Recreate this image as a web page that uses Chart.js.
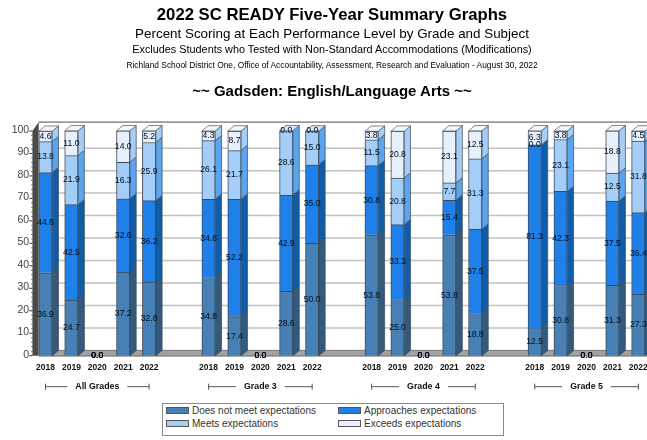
<!DOCTYPE html>
<html><head><meta charset="utf-8">
<script src="https://cdn.jsdelivr.net/npm/chart.js@4"></script>
<style>
html,body{margin:0;padding:0;background:#fff;overflow:hidden}
#wrap{position:relative;width:647px;height:440px;font-family:"Liberation Sans",Arial,sans-serif;filter:blur(0.5px);overflow:hidden}
canvas{position:absolute;left:0;top:0}
.t{position:absolute;left:0;width:664px;text-align:center;white-space:nowrap;color:#000}
#box{position:absolute;left:162px;top:403px;width:340px;height:31px;border:1px solid #8a8a8a;background:#fff;box-sizing:content-box}
.li{position:absolute;font-size:10px;line-height:12px;color:#333;white-space:nowrap}
.sw{position:absolute;width:21px;height:5px;border:1px solid #555}
</style></head><body>
<div id="wrap">
<canvas id="c" width="647" height="440"></canvas>
<div class="t" style="top:5px;font:bold 16.7px 'Liberation Sans';line-height:20px">2022 SC READY Five-Year Summary Graphs</div>
<div class="t" style="top:25px;font:13.4px 'Liberation Sans';line-height:18px">Percent Scoring at Each Performance Level by Grade and Subject</div>
<div class="t" style="top:42px;font:10.85px 'Liberation Sans';line-height:14px">Excludes Students who Tested with Non-Standard Accommodations (Modifications)</div>
<div class="t" style="top:59px;font:8.4px 'Liberation Sans';line-height:12px">Richland School District One, Office of Accountability, Assessment, Research and Evaluation - August 30, 2022</div>
<div class="t" style="top:82px;font:bold 15px 'Liberation Sans';line-height:18px">~~ Gadsden: English/Language Arts ~~</div>
<div id="box"></div>
</div>
<script>
const groups = ["All Grades","Grade 3","Grade 4","Grade 5"];
const years = ["2018","2019","2020","2021","2022"];
const doesNotMeet = [36.9,24.7,0,37.2,32.8, 34.8,17.4,0,28.6,50.0, 53.8,25.0,0,53.8,18.8, 12.5,30.8,0,31.3,27.3];
const approaches  = [44.6,42.5,0,32.6,36.2, 34.8,52.2,0,42.9,35.0, 30.8,33.3,0,15.4,37.5, 81.3,42.3,0,37.5,36.4];
const meets       = [13.8,21.9,0,16.3,25.9, 26.1,21.7,0,28.6,15.0, 11.5,20.8,0, 7.7,31.3,  0.0,23.1,0,12.5,31.8];
const exceeds     = [ 4.6,11.0,0,14.0, 5.2,  4.3, 8.7,0, 0.0, 0.0,  3.8,20.8,0,23.1,12.5,  6.3, 3.8,0,18.8, 4.5];
const seriesNames = ["Does not meet expectations","Approaches expectations","Meets expectations","Exceeds expectations"];
const seriesValues = [doesNotMeet,approaches,meets,exceeds];
const frontColors = ["#4680B4","#1E80E8","#A4CDF8","#E8F1FB"];
const sideColors  = ["#33597C","#0F5CA8","#5AA5EE","#A5CDF6"];
const topColors   = ["#7FA8CC","#6FB0F0","#D2E5FB","#F2F7FD"];
const groupStep = 6.295;
const xPositions = groups.flatMap((g,gi)=>years.map((y,yi)=>gi*groupStep+yi));
const xLabels = groups.flatMap(()=>years);
const depthX = 6.3, depthY = 5.3;

const scene3d = {
  id:'scene3d',
  beforeDatasetsDraw(chart){
    const {ctx,chartArea:a,scales:{y}} = chart;
    const b=y.getPixelForValue(0);
    ctx.save();
    ctx.strokeStyle='#c2c2c2';ctx.lineWidth=1.5;
    y.ticks.forEach(t=>{ if(t.value===0||t.value===100) return;
      const p=y.getPixelForValue(t.value)-depthY;
      ctx.beginPath();ctx.moveTo(a.left+depthX,p);ctx.lineTo(a.right+10,p);ctx.stroke();});
    const topY=y.getPixelForValue(100)-depthY-3.6;
    ctx.strokeStyle='#9a9a9a';ctx.lineWidth=1.6;
    ctx.beginPath();ctx.moveTo(a.left,topY);ctx.lineTo(a.right+10,topY);ctx.stroke();
    ctx.fillStyle='#a2a2a2';
    ctx.beginPath();ctx.moveTo(a.left,b);ctx.lineTo(a.left+depthX,b-depthY);ctx.lineTo(a.right+10,b-depthY);ctx.lineTo(a.right+10,b);ctx.closePath();ctx.fill();
    ctx.strokeStyle='#5a5a5a';ctx.lineWidth=1;
    ctx.beginPath();ctx.moveTo(a.left,b+.3);ctx.lineTo(a.right+10,b+.3);ctx.stroke();
    ctx.strokeStyle='#777';
    ctx.beginPath();ctx.moveTo(a.left+depthX,b-depthY);ctx.lineTo(a.right+10,b-depthY);ctx.stroke();
    ctx.fillStyle='#4a4a4a';
    ctx.beginPath();ctx.moveTo(a.left-depthX,b);ctx.lineTo(a.left-depthX,y.getPixelForValue(100));ctx.lineTo(a.left,topY);ctx.lineTo(a.left,b);ctx.closePath();ctx.fill();
    ctx.strokeStyle='#333';ctx.lineWidth=1;
    for(let v=0;v<=100;v+=2){const p=y.getPixelForValue(v);const l=v%10===0?3:1;
      ctx.beginPath();ctx.moveTo(a.left-depthX-l,p);ctx.lineTo(a.left-depthX,p);ctx.stroke();}
    ctx.restore();
  },
  afterDatasetsDraw(chart){
    const {ctx,scales:{x,y},chartArea:a} = chart;
    ctx.save();
    const n=xPositions.length;
    for(let i=0;i<n;i++){
      let last=-1;
      seriesValues.forEach((s,d)=>{
        if(s[i]<=0) return;
        last=d;
        const el=chart.getDatasetMeta(d).data[i];
        const hw=el.width/2,r=el.x+hw,t=el.y,bt=el.base;
        ctx.fillStyle=sideColors[d];ctx.strokeStyle='#3a4a5a';ctx.lineWidth=.7;
        ctx.beginPath();ctx.moveTo(r,t);ctx.lineTo(r+depthX,t-depthY);ctx.lineTo(r+depthX,bt-depthY);ctx.lineTo(r,bt);ctx.closePath();ctx.fill();ctx.stroke();
      });
      if(last>=0){
        const el=chart.getDatasetMeta(last).data[i];
        const hw=el.width/2,l=el.x-hw,r=el.x+hw,t=el.y;
        ctx.fillStyle=topColors[last];ctx.strokeStyle='#555';ctx.lineWidth=.7;
        ctx.beginPath();ctx.moveTo(l,t);ctx.lineTo(l+depthX,t-depthY);ctx.lineTo(r+depthX,t-depthY);ctx.lineTo(r,t);ctx.closePath();ctx.fill();ctx.stroke();
      }
    }
    ctx.font='8.6px "Liberation Sans"';ctx.textAlign='center';ctx.textBaseline='middle';ctx.fillStyle='#000c1a';
    seriesValues.forEach((s,d)=>{
      const meta=chart.getDatasetMeta(d);
      s.forEach((v,i)=>{
        const el=meta.data[i];
        ctx.fillText(v.toFixed(1),el.x,(el.y+el.base)/2);
      });
    });
    const by=a.bottom+31;
    ctx.strokeStyle='#555';ctx.lineWidth=1;ctx.fillStyle='#111';
    ctx.font='bold 8.8px "Liberation Sans"';
    groups.forEach((g,gi)=>{
      const x0=x.getPixelForValue(gi*groupStep),x1=x.getPixelForValue(gi*groupStep+4),c=(x0+x1)/2;
      const hw=ctx.measureText(g).width/2+8;
      ctx.beginPath();
      ctx.moveTo(x0,by-3);ctx.lineTo(x0,by+3);ctx.moveTo(x0,by);ctx.lineTo(c-hw,by);
      ctx.moveTo(c+hw,by);ctx.lineTo(x1,by);ctx.moveTo(x1,by-3);ctx.lineTo(x1,by+3);ctx.stroke();
      ctx.fillText(g,c,by);
    });
    ctx.restore();
  }
};

new Chart(document.getElementById('c'),{
  type:'bar',
  data:{datasets:seriesNames.map((name,d)=>({
    label:name,
    data:seriesValues[d].map((v,i)=>({x:xPositions[i],y:v})),
    backgroundColor:frontColors[d],
    borderColor:'#3d4a58',
    borderWidth:1,
    barThickness:13.4
  }))},
  options:{
    responsive:false,animation:false,
    layout:{padding:{left:0,right:0,top:131,bottom:0}},
    plugins:{legend:{display:false},title:{display:false},tooltip:{enabled:false}},
    events:[],
    scales:{
      x:{type:'linear',stacked:true,offset:false,min:-0.2625,max:23.22,
        grid:{display:false},border:{display:false},
        afterBuildTicks(ax){ax.ticks=xPositions.map(v=>({value:v}));},
        afterFit(ax){ax.height=84.3;ax.paddingLeft=0;ax.paddingRight=0;},
        ticks:{autoSkip:false,maxRotation:0,padding:-1,color:'#111',font:{family:'Liberation Sans',size:8.5,weight:'bold'},
          callback:(v,i)=>xLabels[i]}
      },
      y:{stacked:true,min:0,max:100,
        grid:{display:false},border:{display:false},
        afterFit(ax){ax.width=38.7;ax.paddingTop=0;ax.paddingBottom=0;},
        ticks:{stepSize:10,padding:1.5,labelOffset:-1,color:'#444',font:{family:'Liberation Sans',size:10.5},autoSkip:false}
      }
    }
  },
  plugins:[scene3d]
});

const wrap=document.getElementById('wrap');
const legendX=[166,338],legendY=[405,418];
seriesNames.forEach((name,d)=>{
  const cx=legendX[d%2],cy=legendY[d>>1];
  const s=document.createElement('div');s.className='sw';
  s.style.cssText=`left:${cx}px;top:${cy+2}px;background:${frontColors[d]}`;wrap.appendChild(s);
  const t=document.createElement('div');t.className='li';t.textContent=name;
  t.style.cssText=`left:${cx+26}px;top:${cy}px`;wrap.appendChild(t);
});
</script>
</body></html>
